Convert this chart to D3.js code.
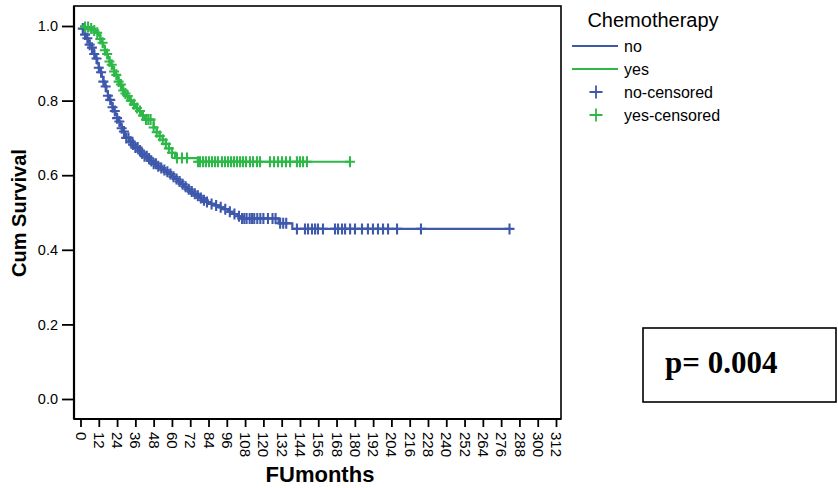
<!DOCTYPE html>
<html>
<head>
<meta charset="utf-8">
<script src="https://cdn.jsdelivr.net/npm/d3@7"></script>
<style>
  body { margin: 0; background: #fff; }
  svg { display: block; }
</style>
</head>
<body>
<svg id="chart" width="838" height="488"></svg>
<script>
// Kaplan-Meier survival by chemotherapy group
const groupNames = ["no", "yes"];
const groupColors = ["#3E58AC", "#2EB848"];

// "no" group: event times (months) and survival after each step
const noStepTimes = [0, 1, 2, 3, 4, 5, 6, 7, 8, 9, 10, 11, 12, 13, 14, 15, 16, 17, 18, 19, 20,
  21, 22, 23, 24, 25, 26, 27, 28, 29, 30, 32, 34, 36, 38, 40, 42, 44, 46, 48, 50, 52, 54, 56,
  58, 60, 62, 64, 66, 68, 70, 72, 74, 76, 78, 80, 82, 85, 88, 91, 94, 97, 100, 103, 105, 130, 139];
const noStepSurv = [1.0, 0.993, 0.985, 0.977, 0.967, 0.958, 0.95, 0.942, 0.933, 0.925, 0.913,
  0.9, 0.888, 0.876, 0.864, 0.851, 0.838, 0.825, 0.813, 0.802, 0.792, 0.782, 0.772, 0.762,
  0.753, 0.744, 0.735, 0.726, 0.717, 0.709, 0.7, 0.69, 0.682, 0.674, 0.666, 0.658, 0.651,
  0.645, 0.638, 0.631, 0.624, 0.619, 0.614, 0.609, 0.603, 0.596, 0.59, 0.583, 0.576, 0.569,
  0.562, 0.556, 0.55, 0.545, 0.539, 0.533, 0.528, 0.523, 0.519, 0.514, 0.509, 0.502, 0.496,
  0.49, 0.484, 0.471, 0.456];
const noCensored = [1.5, 3, 4.5, 6, 7.5, 9, 10.5, 12, 13.5, 15, 16.5, 18, 19.5, 21, 22.5, 24,
  25.5, 27, 28.5, 30, 31.5, 33, 34.5, 36, 37.5, 39, 40.5, 42, 43.5, 45, 46.5, 48, 49.5, 51, 53,
  55, 57, 59, 61, 63, 65, 67, 69, 71, 73, 75, 77, 79, 81, 83, 86, 89, 92, 95, 98, 101, 104,
  106, 107.5, 109, 111, 112.5, 114, 116, 118, 120, 123, 126, 128, 131, 133, 135, 142, 147.3,
  149.3, 151.9, 153.9, 155.8, 159.1, 167, 169, 171.6, 173.6, 176.9, 180.1, 184.7, 188.6,
  191.9, 195.2, 198.5, 201.8, 207.7, 223.4, 281.5];

// "yes" group
const yesStepTimes = [0, 3, 6, 8, 10, 12, 13, 14, 15, 16, 17, 18, 19, 20, 21, 22, 23, 24, 25,
  26, 27, 28, 29, 30, 32, 34, 36, 38, 40, 42, 48, 50, 52, 54, 56, 58, 60, 62, 77];
const yesStepSurv = [1.0, 0.997, 0.993, 0.988, 0.982, 0.974, 0.965, 0.955, 0.945, 0.935,
  0.925, 0.915, 0.905, 0.896, 0.887, 0.878, 0.869, 0.86, 0.851, 0.843, 0.835, 0.827, 0.819,
  0.812, 0.8, 0.79, 0.78, 0.772, 0.76, 0.749, 0.728, 0.715, 0.705, 0.695, 0.684, 0.672, 0.66,
  0.646, 0.636];
const yesCensored = [3, 5, 7, 9, 11, 13, 14.5, 16, 17.5, 19, 20.5, 22, 23.5, 25, 26.5, 28,
  29.5, 31, 33, 35, 37, 39, 41, 43, 44.5, 46, 48, 50, 52, 54, 56, 58, 60, 63.3, 66.6, 69.9,
  77.1, 78.4, 80.4, 82.3, 84.3, 86.3, 88.3, 90.2, 92.8, 94.8, 96.8, 98.8, 100.7, 102.7, 104.7,
  106.6, 108.6, 111.2, 113.2, 115.8, 117.8, 124.3, 127, 129.6, 132.2, 134.8, 137.5, 142, 144,
  146, 148.6, 176.8];

const xTickValues = [0, 12, 24, 36, 48, 60, 72, 84, 96, 108, 120, 132, 144, 156, 168, 180,
  192, 204, 216, 228, 240, 252, 264, 276, 288, 300, 312];
const yTickValues = [0.0, 0.2, 0.4, 0.6, 0.8, 1.0];

const legendTitle = "Chemotherapy";
const pValueText = "p= 0.004";

const svg = d3.select("#chart");
const sans = "'Liberation Sans', Arial, sans-serif";

const frame = { left: 74, right: 561, top: 6, bottom: 419 };
const x = d3.scaleLinear().domain([0, 312]).range([80.5, 556]);
const y = d3.scaleLinear().domain([0, 1]).range([399, 26]);

// plot frame
svg.append("rect")
  .attr("x", frame.left).attr("y", frame.top)
  .attr("width", frame.right - frame.left).attr("height", frame.bottom - frame.top)
  .attr("fill", "none").attr("stroke", "#000").attr("stroke-width", 1.6);

// axes
const xAxis = svg.append("g")
  .attr("transform", `translate(0,${frame.bottom})`)
  .call(d3.axisBottom(x).tickValues(xTickValues).tickSize(8).tickSizeOuter(0));
xAxis.select(".domain").remove();
xAxis.selectAll(".tick line").attr("stroke", "#000").attr("stroke-width", 1.8);
xAxis.selectAll(".tick text")
  .attr("transform", "rotate(90)")
  .attr("x", 13).attr("y", 0).attr("dy", "0.36em")
  .style("text-anchor", "start")
  .style("font-family", sans).style("font-size", "15px").attr("fill", "#000");

const yAxis = svg.append("g")
  .attr("transform", `translate(${frame.left},0)`)
  .call(d3.axisLeft(y).tickValues(yTickValues).tickFormat(d3.format(".1f")).tickSize(12).tickSizeOuter(0));
yAxis.select(".domain").remove();
yAxis.selectAll(".tick line").attr("stroke", "#000").attr("stroke-width", 1.8);
yAxis.selectAll(".tick text")
  .attr("x", -16)
  .style("font-family", sans).style("font-size", "14.5px").attr("fill", "#000");

// thicker left/bottom axis lines
svg.append("line").attr("x1", frame.left).attr("x2", frame.left)
  .attr("y1", frame.top).attr("y2", frame.bottom).attr("stroke", "#000").attr("stroke-width", 2.2);
svg.append("line").attr("x1", frame.left).attr("x2", frame.right)
  .attr("y1", frame.bottom).attr("y2", frame.bottom).attr("stroke", "#000").attr("stroke-width", 2.2);

// axis titles
svg.append("text")
  .attr("transform", "translate(26,213) rotate(-90)")
  .attr("text-anchor", "middle")
  .style("font-family", sans).style("font-weight", "bold").style("font-size", "20px")
  .text("Cum Survival");
svg.append("text")
  .attr("x", 320).attr("y", 482)
  .attr("text-anchor", "middle")
  .style("font-family", sans).style("font-weight", "bold").style("font-size", "22px")
  .text("FUmonths");

// survival curves
const series = [
  { times: noStepTimes, surv: noStepSurv, cens: noCensored },
  { times: yesStepTimes, surv: yesStepSurv, cens: yesCensored }
];

function survAt(s, t) {
  const i = d3.bisectRight(s.times, t) - 1;
  return s.surv[Math.max(0, i)];
}

const stepLine = d3.line().curve(d3.curveStepAfter).x(d => x(d[0])).y(d => y(d[1]));
const plusPath = "M-5,0H5M0,-5.5V5.5";

series.forEach((s, gi) => {
  const end = Math.max(d3.max(s.cens), d3.max(s.times));
  const pts = s.times.map((t, i) => [t, s.surv[i]]);
  pts.push([end, survAt(s, end)]);
  svg.append("path")
    .attr("d", stepLine(pts))
    .attr("fill", "none").attr("stroke", groupColors[gi]).attr("stroke-width", 2.2);
  svg.append("g").selectAll("path")
    .data(s.cens).join("path")
    .attr("transform", t => `translate(${x(t)},${y(survAt(s, t))})`)
    .attr("d", plusPath)
    .attr("fill", "none").attr("stroke", groupColors[gi]).attr("stroke-width", 2.1);
});

// legend
const lg = svg.append("g");
lg.append("text").attr("x", 653).attr("y", 27).attr("text-anchor", "middle")
  .style("font-family", sans).style("font-size", "20px").text(legendTitle);
groupNames.forEach((name, i) => {
  const yy = 46 + i * 23;
  lg.append("line").attr("x1", 572).attr("x2", 618).attr("y1", yy).attr("y2", yy)
    .attr("stroke", groupColors[i]).attr("stroke-width", 1.8);
  lg.append("text").attr("x", 624).attr("y", yy).attr("dy", "0.35em")
    .style("font-family", sans).style("font-size", "16px").text(name);
});
groupNames.forEach((name, i) => {
  const yy = 92 + i * 23;
  lg.append("path").attr("transform", `translate(596,${yy})`)
    .attr("d", "M-6.5,0H6.5M0,-6.5V6.5")
    .attr("stroke", groupColors[i]).attr("stroke-width", 1.8).attr("fill", "none");
  lg.append("text").attr("x", 624).attr("y", yy).attr("dy", "0.35em")
    .style("font-family", sans).style("font-size", "16px").text(name + "-censored");
});

// p-value box
svg.append("rect").attr("x", 643).attr("y", 328).attr("width", 193).attr("height", 74)
  .attr("fill", "#fff").attr("stroke", "#000").attr("stroke-width", 1.6);
svg.append("text").attr("x", 665).attr("y", 373)
  .style("font-family", "'Liberation Serif', 'Times New Roman', serif")
  .style("font-weight", "bold").style("font-size", "31px")
  .text(pValueText);
</script>
</body>
</html>
